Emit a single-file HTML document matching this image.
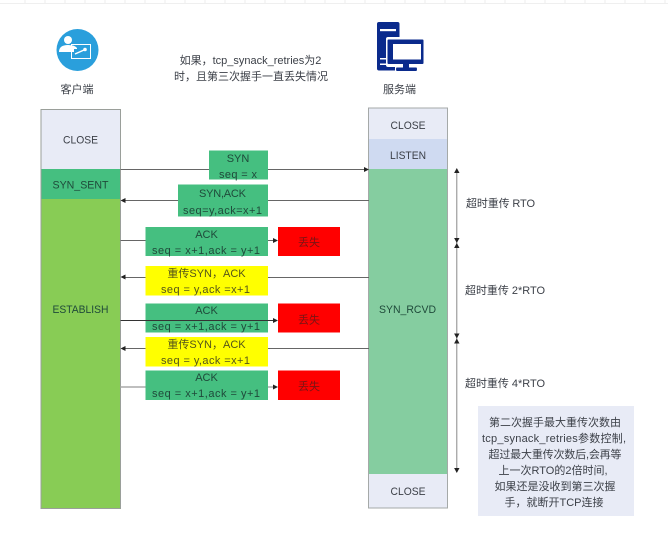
<!DOCTYPE html>
<html><head><meta charset="utf-8">
<style>
html,body{margin:0;padding:0;background:#fff}
svg{display:block;filter:blur(.3px)}
text{font-family:"Liberation Sans","Noto Sans CJK SC",sans-serif;font-size:11px;fill:#3c4048;text-anchor:middle}
.d{fill:#1f4a3a}
.y{fill:#55551a}
.r{fill:#7a1414}
.l{text-anchor:start}
</style></head><body>
<svg width="668" height="534" viewBox="0 0 668 534" xmlns="http://www.w3.org/2000/svg">
<rect x="0" y="3" width="668" height="1" fill="#efefef"/>
<g stroke="#ececec" stroke-width="1"><path d="M25 0V3M45 0V3M65 0V3M85 0V3M105 0V3M125 0V3M145 0V3M165 0V3M185 0V3M205 0V3M225 0V3M245 0V3M265 0V3M285 0V3M305 0V3M325 0V3M345 0V3M365 0V3M385 0V3M405 0V3M425 0V3M445 0V3M465 0V3M485 0V3M505 0V3M525 0V3M545 0V3M565 0V3M585 0V3M605 0V3M625 0V3M645 0V3M665 0V3"/></g>

<!-- client icon -->
<circle cx="77.500" cy="50" r="21" fill="#2a9fdc"/>
<circle cx="68" cy="40" r="4" fill="#fff"/>
<path d="M59 52q0-7 9-7q7 0 9 3v1h-3v3z" fill="#fff"/>
<rect x="71.500" y="44.500" width="19" height="14" fill="none" stroke="#fff" stroke-width="1"/>
<path d="M75 54l9-4" stroke="#fff" stroke-width="1.500"/>
<circle cx="85" cy="49.500" r="1.800" fill="#fff"/>
<text x="77" y="93" font-size="11">客户端</text>

<!-- server icon -->
<rect x="377" y="22" width="22.500" height="48.500" rx="2" fill="#0a2a8c"/>
<rect x="380" y="29" width="16" height="2.200" fill="#fff"/>
<rect x="380" y="58" width="11" height="1.500" fill="#fff"/>
<rect x="380" y="63.500" width="11" height="1.500" fill="#fff"/>
<rect x="386" y="37" width="39" height="30" rx="2" fill="#fff"/>
<rect x="395" y="66" width="24" height="6" fill="#fff"/>
<rect x="387.500" y="39.500" width="36" height="24.500" rx="1" fill="#0a2a8c"/>
<rect x="393" y="44" width="28" height="15.500" fill="#fff"/>
<path d="M403 64h6v3.500h7.500q1 1.500 0 3.500h-20q-1-2 0-3.500h6.500z" fill="#0a2a8c"/>
<text x="399.500" y="93">服务端</text>

<!-- title -->
<text x="250.500" y="64" font-size="11">如果，tcp_synack_retries为2</text>
<text x="251" y="80" font-size="11">时，且第三次握手一直丢失情况</text>

<!-- left column -->
<rect x="41" y="109.500" width="79.500" height="60" fill="#e8ebf6"/>
<rect x="41" y="169" width="79.500" height="30" fill="#45bf80"/>
<rect x="41" y="199" width="79.500" height="309.500" fill="#88cc55"/>
<rect x="41" y="109.500" width="79.500" height="399" fill="none" stroke="#9a9f9a" stroke-width="1"/>
<text x="80.500" y="143.500" textLength="35" lengthAdjust="spacingAndGlyphs">CLOSE</text>
<text x="80.500" y="188.500" class="d" textLength="56" lengthAdjust="spacingAndGlyphs">SYN_SENT</text>
<text x="80.500" y="313" class="d" textLength="56" lengthAdjust="spacingAndGlyphs">ESTABLISH</text>

<!-- right column -->
<rect x="368.500" y="108" width="79" height="31" fill="#e8ebf6"/>
<rect x="368.500" y="139" width="79" height="30" fill="#cfdaf1"/>
<rect x="368.500" y="169" width="79" height="305" fill="#85cda0"/>
<rect x="368.500" y="474" width="79" height="34" fill="#e8ebf6"/>
<rect x="368.500" y="108" width="79" height="400" fill="none" stroke="#a5a9a8" stroke-width="1"/>
<text x="408" y="129" textLength="35" lengthAdjust="spacingAndGlyphs">CLOSE</text>
<text x="408" y="159" textLength="36" lengthAdjust="spacingAndGlyphs">LISTEN</text>
<text x="407.500" y="313" class="d" textLength="57" lengthAdjust="spacingAndGlyphs">SYN_RCVD</text>
<text x="408" y="495" textLength="35" lengthAdjust="spacingAndGlyphs">CLOSE</text>

<!-- connectors -->
<g stroke="#666" stroke-width="1" fill="none">
<path d="M120.500 169.500H365"/>
<path d="M124 200.500H369"/>
<path d="M120.500 240.500H274"/>
<path d="M124 277.500H369"/>
<path d="M124 348.500H369"/>
<path d="M120.500 387H274" stroke="#aaa" stroke-width="1.500"/>
</g>

<!-- boxes -->
<g fill="#45bf80">
<rect x="209" y="150.500" width="59" height="29"/>
<rect x="178" y="184.500" width="90" height="32"/>
<rect x="145.500" y="227" width="122.500" height="29"/>
<rect x="145.500" y="303.500" width="122.500" height="29"/>
<rect x="145.500" y="370.500" width="122.500" height="29.500"/>
</g>
<g fill="#ffff00">
<rect x="145.500" y="266" width="122.500" height="29.500"/>
<rect x="145.500" y="337" width="122.500" height="29.500"/>
</g>
<g fill="#ff0000">
<rect x="278" y="227" width="62" height="29"/>
<rect x="278" y="303.500" width="62" height="29"/>
<rect x="278" y="370.500" width="62" height="29.500"/>
</g>
<path d="M120.500 320.500H274" stroke="#333" stroke-width="1" fill="none"/>

<!-- arrowheads -->
<g fill="#222">
<path d="M369 169.500l-5-2.500v5z"/>
<path d="M120.500 200.500l5-2.500v5z"/>
<path d="M278 240.500l-5-2.500v5z"/>
<path d="M120.500 277l5-2.500v5z"/>
<path d="M278 320.500l-5-2.500v5z"/>
<path d="M120.500 348.500l5-2.500v5z"/>
<path d="M278 387l-5-2.500v5z"/>
</g>

<!-- box text -->
<text x="238" y="162" class="d">SYN</text>
<text x="238" y="178" class="d" textLength="38">seq = x</text>
<text x="222.500" y="197" class="d" textLength="47">SYN,ACK</text>
<text x="222.500" y="214" class="d" textLength="79">seq=y,ack=x+1</text>
<text x="206.500" y="238" class="d">ACK</text>
<text x="206" y="254" class="d" textLength="108">seq = x+1,ack = y+1</text>
<text x="206.500" y="277" class="y">重传SYN，ACK</text>
<text x="205.500" y="293" class="y" textLength="89">seq = y,ack =x+1</text>
<text x="206.500" y="314" class="d">ACK</text>
<text x="206" y="330" class="d" textLength="108">seq = x+1,ack = y+1</text>
<text x="206.500" y="348" class="y">重传SYN，ACK</text>
<text x="205.500" y="364" class="y" textLength="89">seq = y,ack =x+1</text>
<text x="206.500" y="381" class="d">ACK</text>
<text x="206" y="397" class="d" textLength="108">seq = x+1,ack = y+1</text>
<text x="309" y="246" class="r">丢失</text>
<text x="309" y="323.500" class="r">丢失</text>
<text x="309" y="390" class="r">丢失</text>

<!-- timeline -->
<path d="M456.800 170V472" stroke="#888" stroke-width="1" fill="none"/>
<g fill="#222">
<path d="M456.800 168l-2.700 5h5.400z"/>
<path d="M456.800 243l-2.700-5h5.400z"/>
<path d="M456.800 243l-2.700 5h5.400z"/>
<path d="M456.800 338.500l-2.700-5h5.400z"/>
<path d="M456.800 338.500l-2.700 5h5.400z"/>
<path d="M456.800 473l-2.700-5h5.400z"/>
</g>
<text x="466" y="207" class="l" textLength="69">超时重传 RTO</text>
<text x="465" y="294" class="l" textLength="80">超时重传 2*RTO</text>
<text x="465" y="387" class="l" textLength="80">超时重传 4*RTO</text>

<!-- note -->
<rect x="478" y="406" width="156" height="110" fill="#e8ebf6"/>
<text x="555" y="426">第二次握手最大重传次数由</text>
<text x="554" y="442" textLength="144">tcp_synack_retries参数控制,</text>
<text x="555" y="458" textLength="133">超过最大重传次数后,会再等</text>
<text x="553" y="474">上一次RTO的2倍时间,</text>
<text x="555" y="490">如果还是没收到第三次握</text>
<text x="554" y="506">手，就断开TCP连接</text>
</svg>
</body></html>
